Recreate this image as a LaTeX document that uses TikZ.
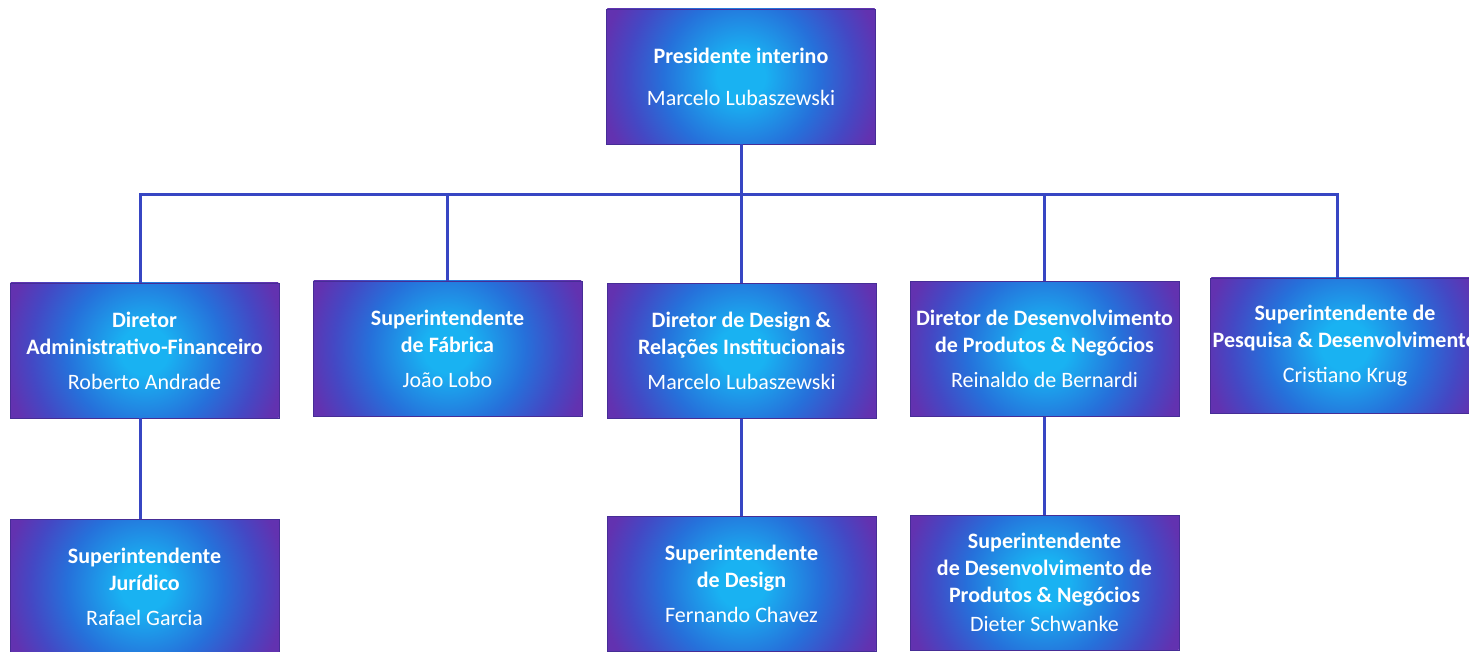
\documentclass[tikz,border=0pt]{standalone}
\usepackage{fontspec}
\setmainfont{Carlito}
\definecolor{bcA}{RGB}{25,178,242}
\definecolor{bcB}{RGB}{38,112,218}
\definecolor{bcC}{RGB}{68,72,196}
\definecolor{bcD}{RGB}{98,50,176}
\definecolor{linec}{RGB}{55,70,195}
\definecolor{edgec}{RGB}{70,45,150}
\pgfdeclareradialshading{boxshade}{\pgfpoint{0bp}{0bp}}{color(0bp)=(bcA); color(4bp)=(bcA); color(13bp)=(bcB); color(19bp)=(bcC); color(23.5bp)=(bcD); color(50bp)=(bcD)}
\tikzset{
  orgbox/.style={rectangle, draw=edgec, line width=0.8pt,
    path picture={\shade[shading=boxshade] (path picture bounding box.center) circle[radius=150pt];},
    minimum width=269pt, minimum height=135pt, inner sep=0pt,
    text=white, align=center, font=\fontsize{22}{27}\selectfont},
  conn/.style={draw=linec, line width=3pt}
}
\begin{document}
\begin{tikzpicture}[x=1pt,y=-1pt]
\useasboundingbox (0,0) rectangle (1469,652);
\clip (0,0) rectangle (1469,652);
\fill[white] (0,0) rectangle (1469,652);
\coordinate (bar) at (741,195);
\node[orgbox] (top) at (741,76.5) {\textbf{Presidente interino}\\[15pt]Marcelo Lubaszewski};
\node[orgbox] (b1) at (144.5,350.5) {\textbf{Diretor}\\\textbf{Administrativo-Financeiro}\\[8pt]Roberto Andrade};
\node[orgbox] (b2) at (447.5,348.5) {\textbf{Superintendente}\\\textbf{de Fábrica}\\[8pt]João Lobo};
\node[orgbox] (b3) at (741.5,351) {\textbf{Diretor de Design \&}\\\textbf{Relações Institucionais}\\[8pt]Marcelo Lubaszewski};
\node[orgbox] (b4) at (1044.5,349) {\textbf{Diretor de Desenvolvimento}\\\textbf{de Produtos \& Negócios}\\[8pt]Reinaldo de Bernardi};
\node[orgbox] (b5) at (1345,345.5) {\textbf{Superintendente de}\\\textbf{Pesquisa \& Desenvolvimento}\\[8pt]Cristiano Krug};
\node[orgbox] (b6) at (144.5,586.5) {\textbf{Superintendente}\\\textbf{Jurídico}\\[8pt]Rafael Garcia};
\node[orgbox] (b7) at (741.5,583.5) {\textbf{Superintendente}\\\textbf{de Design}\\[8pt]Fernando Chavez};
\node[orgbox] (b8) at (1044.5,582.5) {\textbf{Superintendente}\\\textbf{de Desenvolvimento de}\\\textbf{Produtos \& Negócios}\\[2pt]Dieter Schwanke};
\draw[conn] (top.south) -- (bar);
\draw[conn] ([xshift=-4.5pt]b1.north) -- ([xshift=-4.5pt]b1.north |- bar) -- ([xshift=-8pt]b5.north |- bar) -- ([xshift=-8pt]b5.north);
\draw[conn] (b2.north) -- (b2.north |- bar);
\draw[conn] ([xshift=-0.5pt]b3.north) -- ([xshift=-0.5pt]b3.north |- bar);
\draw[conn] ([xshift=-0.5pt]b4.north) -- ([xshift=-0.5pt]b4.north |- bar);
\draw[conn] ([xshift=-4.5pt]b1.south) -- ([xshift=-4.5pt]b6.north);
\draw[conn] ([xshift=-0.5pt]b3.south) -- ([xshift=-0.5pt]b7.north);
\draw[conn] ([xshift=-0.5pt]b4.south) -- ([xshift=-0.5pt]b8.north);
\end{tikzpicture}
\end{document}
